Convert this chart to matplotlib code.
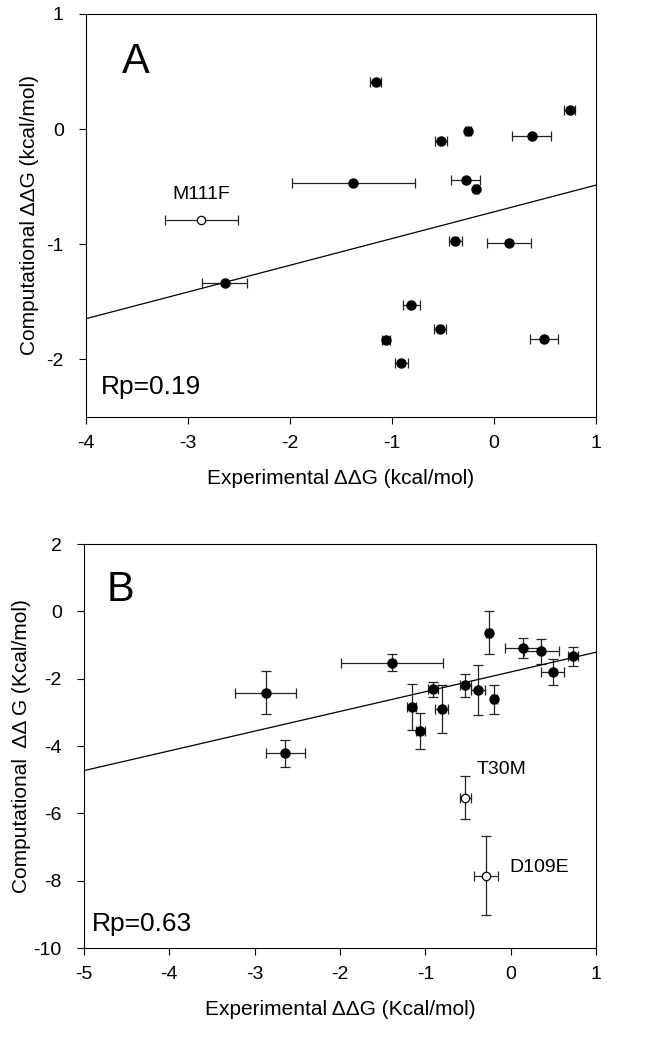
import numpy as np
import matplotlib
matplotlib.use("Agg")
import matplotlib.pyplot as plt

plt.rcParams['font.family'] = ['Liberation Sans', 'DejaVu Sans']
plt.rcParams['axes.unicode_minus'] = False

# panel A: experimental vs computational, horizontal error bars only
a_exp = [-1.16, 0.74, -0.26, -0.52, 0.37, -1.38, -0.28, -0.18, -0.38, 0.15, -2.64, -0.81, -0.53, -1.06, 0.49, -0.91]
a_exp_err = [0.055, 0.05, 0.03, 0.055, 0.19, 0.60, 0.14, 0.02, 0.065, 0.215, 0.22, 0.08, 0.06, 0.035, 0.14, 0.065]
a_comp = [0.41, 0.17, -0.02, -0.10, -0.06, -0.47, -0.44, -0.52, -0.97, -0.99, -1.34, -1.53, -1.74, -1.83, -1.82, -2.03]
a_out_exp = [-2.87]
a_out_err = [0.355]
a_out_comp = [-0.79]
a_fit = (0.232, -0.718)

# panel B: both error bars
b_exp = [-2.87, -2.64, -1.39, -1.16, -1.06, -0.91, -0.81, -0.53, -0.38, -0.26, -0.19, 0.14, 0.36, 0.49, 0.73]
b_exp_err = [0.36, 0.225, 0.60, 0.05, 0.05, 0.06, 0.08, 0.06, 0.08, 0.03, 0.03, 0.21, 0.205, 0.14, 0.06]
b_comp = [-2.41, -4.22, -1.52, -2.84, -3.55, -2.32, -2.90, -2.20, -2.34, -0.63, -2.61, -1.09, -1.19, -1.80, -1.34]
b_comp_err = [0.63, 0.41, 0.26, 0.67, 0.53, 0.22, 0.70, 0.35, 0.74, 0.65, 0.43, 0.29, 0.37, 0.38, 0.28]
b_out_exp = [-0.53, -0.29]
b_out_exp_err = [0.06, 0.14]
b_out_comp = [-5.53, -7.85]
b_out_comp_err = [0.63, 1.17]
b_out_names = ['T30M', 'D109E']
b_fit = (0.586, -1.80)

fig = plt.figure(figsize=(6.54, 10.41), dpi=100)
axA = fig.add_axes([0.1315, 0.5994, 0.780, 0.3872])
axB = fig.add_axes([0.1284, 0.0893, 0.783, 0.3881])

eb = dict(fmt='o', color='black', ecolor='#222222', elinewidth=0.9, capsize=3.5, capthick=0.9)
open_style = dict(markersize=6, markerfacecolor='white', markeredgecolor='black', markeredgewidth=0.9)

# panel A
axA.errorbar(a_exp, a_comp, xerr=a_exp_err, markersize=6.5, **eb)
axA.errorbar(a_out_exp, a_out_comp, xerr=a_out_err, **open_style, **eb)
xs = np.array([-4, 1])
axA.plot(xs, a_fit[0] * xs + a_fit[1], color='black', lw=0.9)
axA.text(a_out_exp[0], a_out_comp[0] + 0.15, 'M111F', ha='center', va='bottom', fontsize=14)
axA.text(0.07, 0.88, 'A', transform=axA.transAxes, fontsize=30, ha='left', va='center')
axA.text(0.03, 0.075, 'Rp=0.19', transform=axA.transAxes, fontsize=19, ha='left', va='center')
axA.set_xlim(-4, 1)
axA.set_ylim(-2.5, 1)
axA.set_xticks([-4, -3, -2, -1, 0, 1])
axA.set_yticks([-2, -1, 0, 1])
axA.set_xlabel('Experimental ΔΔG (kcal/mol)', fontsize=15, labelpad=12)
axA.set_ylabel('Computational ΔΔG (kcal/mol)', fontsize=15, labelpad=5)

# panel B
axB.errorbar(b_exp, b_comp, xerr=b_exp_err, yerr=b_comp_err, markersize=6.5, **eb)
axB.errorbar(b_out_exp, b_out_comp, xerr=b_out_exp_err, yerr=b_out_comp_err, **open_style, **eb)
xs = np.array([-5, 1])
axB.plot(xs, b_fit[0] * xs + b_fit[1], color='black', lw=0.9)
axB.text(-0.40, -4.69, b_out_names[0], ha='left', va='center', fontsize=14)
axB.text(-0.02, -7.61, b_out_names[1], ha='left', va='center', fontsize=14)
axB.text(0.045, 0.885, 'B', transform=axB.transAxes, fontsize=30, ha='left', va='center')
axB.text(0.015, 0.06, 'Rp=0.63', transform=axB.transAxes, fontsize=19, ha='left', va='center')
axB.set_xlim(-5, 1)
axB.set_ylim(-10, 2)
axB.set_xticks([-5, -4, -3, -2, -1, 0, 1])
axB.set_yticks([-10, -8, -6, -4, -2, 0, 2])
axB.set_xlabel('Experimental ΔΔG (Kcal/mol)', fontsize=15, labelpad=12)
axB.set_ylabel('Computational  ΔΔ G (Kcal/mol)', fontsize=15, labelpad=2)

for ax in (axA, axB):
    ax.tick_params(direction='out', length=5, width=0.8, labelsize=14, pad=8,
                   top=False, right=False)
    ax.tick_params(axis='y', pad=11)
    for s in ax.spines.values():
        s.set_linewidth(0.8)

fig.savefig('out.png', dpi=100)
